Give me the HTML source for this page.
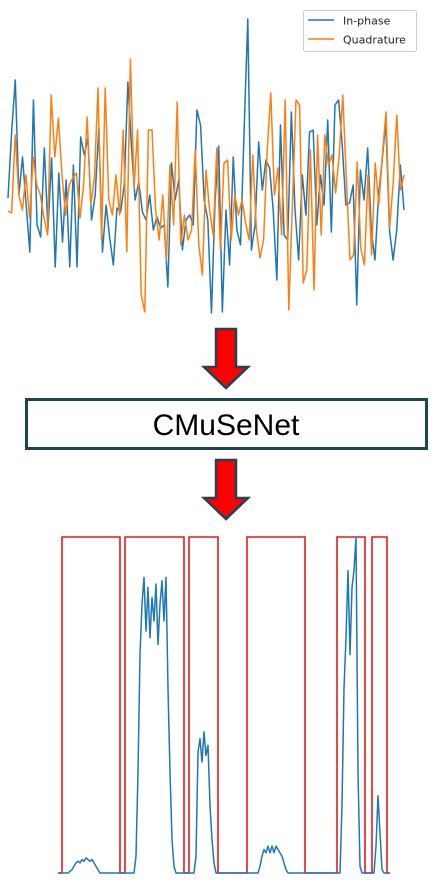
<!DOCTYPE html>
<html><head><meta charset="utf-8"><style>
html,body{margin:0;padding:0;background:#fff;}
svg{display:block;}
</style></head><body>
<svg id="fig" width="437" height="881" viewBox="0 0 437 881" xmlns="http://www.w3.org/2000/svg">
  <g id="topChart"></g>
  <g>
    <rect x="303.5" y="10.5" width="113" height="41" rx="2" fill="#fff" stroke="#ccc" stroke-width="1"/>
    <line x1="308" y1="20" x2="334" y2="20" stroke="#1f77b4" stroke-width="1.6"/>
    <text x="343" y="24.5" font-family="DejaVu Sans, sans-serif" font-size="11" fill="#222">In-phase</text>
    <line x1="308" y1="39" x2="334" y2="39" stroke="#ff7f0e" stroke-width="1.6"/>
    <text x="343" y="43.5" font-family="DejaVu Sans, sans-serif" font-size="11" fill="#222">Quadrature</text>
  </g>
  <polygon points="216,329 236,329 236,367 248,367 226,388 204,367 216,367" fill="#ff0000" stroke="#1f4550" stroke-width="2.5"/>
  <rect x="26.5" y="399.5" width="400" height="49" fill="#fff" stroke="#1f4550" stroke-width="3"/>
  <text x="226" y="435" text-anchor="middle" font-family="Liberation Sans, sans-serif" font-size="30" fill="#000">CMuSeNet</text>
  <polygon points="216,460 236,460 236,498 248,498 226,519 204,498 216,498" fill="#ff0000" stroke="#1f4550" stroke-width="2.5"/>
  <g id="bottomChart"></g>
</svg>
<script>
const inphaseValues=[0.7,7.3,12.5,1,4.8,0,-4.7,10.5,-2,-3.2,5.7,-2.5,4.7,-6.2,3.2,-3.7,2.5,-6.2,4,-6.2,6.8,5,6.7,-1.5,1,7.7,-4.7,0,-3.3,-6,-0.3,-0.7,2,12.3,5.7,0.5,2.3,-0.7,-1.5,1,-2.5,-1.2,-2.3,-2,-8.2,4.2,0.5,2.5,-4.5,-1.5,-1,-2,9.5,8,0.5,-1.5,-10.8,0.5,5.9,-10.7,-0.5,-6,4.8,-2.5,-4,7.5,18.6,-4.5,-2,6.3,1.5,4.5,3.7,-0.5,-7.5,8,-3,-3.5,9.3,-0.5,-5.5,3,-1,7.3,7.5,-2,3,0,8.5,-2.7,10,10.5,6,0,0.2,2,-10,3.5,0.5,5.7,-2.5,-5.5,1,4.5,8.3,-2.5,-5.5,-2.5,4,-0.5];
const quadratureValues=[-0.6,-0.8,7,1,-0.5,3,-1.3,4.8,2,1,-1.3,-3,11,4.8,8.7,3,-1,2,2.7,3.2,-1.3,2,8.8,0,2.7,11.7,-3.5,11.7,0.5,-1,3,-1,7.5,-4.7,14.6,1.7,7.5,-9,-10.7,7.5,7.5,-0.5,-3.5,1,-5.5,4,-2,10.3,-4,-1,-3.5,-2.5,5.5,-4,-7,3.5,-0.5,-3,5.7,-4.5,4.2,4.5,-3.5,1,-1,0.5,-1.8,-3.5,5,-2.5,-5.3,-3.5,5.5,11.2,1,3.7,-3,10.5,-10.5,0,10.5,10,-7.8,-6.5,5.5,-8.5,7,-3,7,4,5,1.2,5,11,2.5,-5.5,-5,4.3,-4.3,-6,3,-5,4.2,0,5,9.3,-2.3,2.2,9,1.5,3];
const detectionValues=[0,0,0,0,0,0,0.005,0.01,
0.02,0.03,0.035,0.03,0.04,0.035,0.045,0.04,0.035,0.04,0.03,0.02,0.01,
0,0,0,0,0,0,0,0,0,0,0,0,0,0,0,0,0,0,
0.05,0.3,0.65,0.8,0.88,0.72,0.85,0.7,0.82,0.75,0.86,0.68,0.8,0.87,0.75,0.88,0.55,0.3,0.1,0.02,
0,0,0,0,0,0,0,0,0,0,
0.05,0.36,0.4,0.33,0.42,0.35,0.38,0.2,0.1,0.03,
0,0,0,0,0,0,0,0,0,0,0,0,0,0,0,0,0,0,0,0,0,0,
0.02,0.05,0.07,0.06,0.08,0.06,0.08,0.06,0.08,0.07,0.06,0.05,0.03,0.01,
0,0,0,0,0,0,0,0,0,0,0,0,0,0,0,0,0,0,0,0,0,0,0,0,0,0,0,
0.2,0.55,0.7,0.9,0.65,0.85,0.9,1.0,0.3,0.02,
0,0,0,0,0,0,0,
0.08,0.23,0.12,0.01,
0,0,0,0];
const regionStarts=[2,33.5,65.5,94.5,139.5,157];
const regionEnds=[31,63,80,123.5,153.5,164.5];

const NS='http://www.w3.org/2000/svg';
function mk(tag,attrs,parent){const e=document.createElementNS(NS,tag);for(const k in attrs)e.setAttribute(k,attrs[k]);parent.appendChild(e);return e;}

// top chart
const topGroup=document.getElementById('topChart');
function tx(i,n){return 8+i*396/(n-1);}
function ty(v){return 205-v*10;}
function linePath(vals){return vals.map((v,i)=>(i?'L':'M')+tx(i,vals.length).toFixed(2)+','+ty(v).toFixed(2)).join('');}
const pi=mk('path',{d:linePath(inphaseValues),fill:'none',stroke:'#1f77b4','stroke-width':1.5,'stroke-linejoin':'round'},topGroup);


const pq=mk('path',{d:linePath(quadratureValues),fill:'none',stroke:'#ff7f0e','stroke-width':1.5,'stroke-linejoin':'round'},topGroup);



// bottom chart
const bottomGroup=document.getElementById('bottomChart');
function bx(t){return 58+t*2;}
function by(v){return 873-v*336;}
let rd='M'+bx(0)+','+by(0);
for(let k=0;k<regionStarts.length;k++){
  rd+='L'+bx(regionStarts[k])+','+by(0)+'L'+bx(regionStarts[k])+','+by(1)+'L'+bx(regionEnds[k])+','+by(1)+'L'+bx(regionEnds[k])+','+by(0);
}
rd+='L'+bx(detectionValues.length-1)+','+by(0);
const pr=mk('path',{d:rd,fill:'none',stroke:'#e41a1c','stroke-width':1.6},bottomGroup);


const pb=mk('path',{d:detectionValues.map((v,i)=>(i?'L':'M')+bx(i)+','+by(v).toFixed(2)).join(''),fill:'none',stroke:'#1f77b4','stroke-width':1.5,'stroke-linejoin':'round'},bottomGroup);


</script>
</body></html>
